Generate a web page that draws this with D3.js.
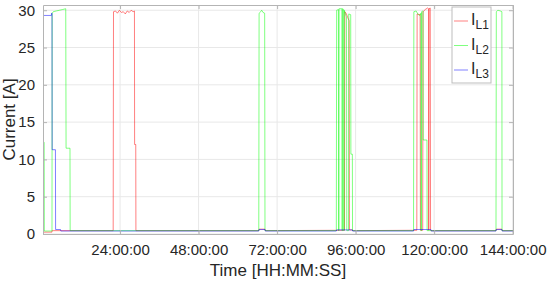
<!DOCTYPE html>
<html>
<head>
<meta charset="utf-8">
<script src="https://cdn.jsdelivr.net/npm/d3@7"></script>
<style>
  body { margin: 0; background: #fff; }
  text { font-family: Arial, "Liberation Sans", sans-serif; fill: #262626; }
</style>
</head>
<body>
<svg id="chart" width="550" height="282"></svg>
<script>
// time in hours, current in A
const l1Time = [0.45, 3.2, 3.25, 21.9, 22.0, 22.6, 23.2, 23.8, 24.4, 25.0, 25.6, 26.2, 26.8, 27.4, 28.0, 28.4, 28.45, 28.8, 28.85,
  66.4, 66.5, 68.3, 68.4, 92.6, 92.7, 93.2, 93.6, 94.0, 94.1, 95.0, 95.1,
  114.7, 114.8, 115.7, 115.8, 116.5, 116.6, 117.3, 118.0, 118.3, 118.35, 118.45, 118.8, 118.9, 119.0,
  138.9, 139.0, 140.7, 140.8, 144.1];
const l1Value = [0.25, 0.25, 0.45, 0.45, 29.8, 29.9, 29.6, 30.0, 29.7, 29.8, 29.5, 29.9, 29.7, 30.0, 29.8, 29.9, 12.0, 12.0, 0.45,
  0.45, 0.65, 0.65, 0.45, 0.5, 29.8, 29.5, 29.0, 28.6, 0.55, 0.55, 0.45,
  0.5, 29.5, 29.4, 0.5, 0.5, 29.8, 30.1, 30.3, 30.2, 0.5, 30.2, 30.3, 0.6, 0.45,
  0.45, 0.65, 0.65, 0.45, 0.45];

const l2Time = [0.45, 0.8, 0.85, 3.2, 3.25, 3.6, 4.5, 5.5, 6.5, 7.4, 7.5, 8.7, 8.75,
  66.4, 66.5, 67.0, 67.3, 67.7, 68.2, 68.3,
  90.1, 90.2, 90.75, 90.8, 90.9, 90.95, 91.8, 91.85, 91.95, 92.0, 92.35, 92.4, 92.45, 92.5, 93.2, 93.3, 93.85, 93.9, 94.5, 94.55, 95.0, 95.05,
  113.7, 113.8, 114.5, 115.0, 115.4, 115.8, 115.95, 116.0, 116.1, 116.15, 116.5, 116.6, 116.65, 117.8, 117.85,
  138.9, 139.0, 139.5, 140.2, 140.7, 140.75, 144.1];
const l2Value = [12.3, 12.3, 0.4, 0.4, 29.6, 29.8, 29.9, 30.0, 30.1, 30.2, 11.5, 11.5, 0.45,
  0.45, 29.6, 29.8, 30.0, 29.7, 29.6, 0.45,
  0.45, 30.0, 30.1, 0.45, 0.45, 30.2, 30.2, 0.45, 0.45, 30.2, 30.1, 0.45, 0.45, 30.0, 29.1, 0.45, 0.45, 29.5, 29.4, 10.7, 10.7, 0.45,
  0.45, 29.8, 29.9, 29.5, 29.3, 29.4, 29.6, 0.45, 0.45, 29.8, 29.9, 29.8, 12.6, 12.6, 0.45,
  0.45, 29.8, 30.0, 29.9, 29.8, 0.45, 0.45];

const l3Time = [0.45, 3.0, 3.1, 3.2, 3.25, 4.25, 4.3, 5.8, 5.9,
  66.4, 66.5, 68.3, 68.4, 90.1, 90.2, 95.0, 95.1, 113.7, 113.8, 119.0, 119.1, 138.9, 139.0, 140.7, 140.8, 144.1];
const l3Value = [29.3, 29.3, 29.6, 29.6, 11.3, 11.3, 0.6, 0.6, 0.4,
  0.4, 0.6, 0.6, 0.4, 0.4, 0.55, 0.55, 0.4, 0.4, 0.6, 0.6, 0.4, 0.4, 0.6, 0.6, 0.4, 0.4];

const xTicks = [24, 48, 72, 96, 120, 144];
const yTicks = [0, 5, 10, 15, 20, 25, 30];
const seriesNames = ['L1', 'L2', 'L3'];
const seriesColors = ['#ff0000', '#00ff00', '#0000ff'];

const svg = d3.select('#chart');
const margin = { top: 5, right: 37, bottom: 48, left: 43 };
const width = 550 - margin.left - margin.right;
const height = 282 - margin.top - margin.bottom;

const x = d3.scaleLinear().domain([0.45, 144.1]).range([0, width]);
const y = d3.scaleLinear().domain([0, 30.7]).range([height, 0]);

const g = svg.append('g').attr('transform', `translate(${margin.left},${margin.top})`);

// grid
g.selectAll('.gx').data(xTicks).enter().append('line')
  .attr('x1', d => x(d)).attr('x2', d => x(d)).attr('y1', 0).attr('y2', height)
  .attr('stroke', '#e8e8e8').attr('stroke-width', 1);
g.selectAll('.gy').data(yTicks).enter().append('line')
  .attr('x1', 0).attr('x2', width).attr('y1', d => y(d)).attr('y2', d => y(d))
  .attr('stroke', '#e8e8e8').attr('stroke-width', 1);

// data lines
const series = [
  { name: 'L1', t: l1Time, v: l1Value },
  { name: 'L2', t: l2Time, v: l2Value },
  { name: 'L3', t: l3Time, v: l3Value }
];
const line = d3.line().x(d => x(d[0])).y(d => y(d[1]));
const plot = g.append('g');
series.forEach((s, i) => {
  const pts = s.t.map((t, k) => [t, s.v[k]]);
  plot.append('path').datum(pts)
    .attr('d', line)
    .attr('fill', 'none')
    .attr('stroke', seriesColors[i])
    .attr('stroke-width', 0.5);
});

// axes (box with inner ticks)
const axisColor = '#b4b4b4';
const xAxis = g.append('g').attr('transform', `translate(0,${height})`)
  .call(d3.axisBottom(x).tickValues(xTicks).tickSizeInner(-4).tickSizeOuter(0)
    .tickPadding(10).tickFormat(d => d3.format('02d')(d) + ':00:00'));
const yAxis = g.append('g')
  .call(d3.axisLeft(y).tickValues(yTicks).tickSizeInner(-4).tickSizeOuter(0).tickPadding(8));
const xTop = g.append('g')
  .call(d3.axisTop(x).tickValues(xTicks).tickSizeInner(-4).tickSizeOuter(0).tickFormat(''));
const yRight = g.append('g').attr('transform', `translate(${width},0)`)
  .call(d3.axisRight(y).tickValues(yTicks).tickSizeInner(-4).tickSizeOuter(0).tickFormat(''));
[xAxis, yAxis, xTop, yRight].forEach(a => {
  a.selectAll('path').attr('stroke', axisColor);
  a.selectAll('line').attr('stroke', axisColor);
  a.selectAll('text').attr('font-size', 15).attr('fill', '#262626')
    .attr('font-family', 'Arial, "Liberation Sans", sans-serif');
});

// axis labels
svg.append('text').attr('x', margin.left + width / 2).attr('y', 276)
  .attr('text-anchor', 'middle').attr('font-size', 17).text('Time [HH:MM:SS]');
svg.append('text').attr('transform', `translate(15,${margin.top + height / 2}) rotate(-90)`)
  .attr('text-anchor', 'middle').attr('font-size', 17).text('Current [A]');

// legend
const lg = svg.append('g').attr('transform', 'translate(452,7)');
lg.append('rect').attr('width', 39).attr('height', 76)
  .attr('fill', '#fff').attr('stroke', '#bdbdbd').attr('stroke-width', 1);
seriesNames.forEach((name, i) => {
  const cy = 14 + i * 24.5;
  lg.append('line').attr('x1', 2).attr('x2', 16).attr('y1', cy).attr('y2', cy)
    .attr('stroke', seriesColors[i]).attr('stroke-width', 0.5);
  const t = lg.append('text').attr('x', 19).attr('y', cy + 4).attr('font-size', 16);
  t.append('tspan').text('I');
  t.append('tspan').attr('font-size', 12).attr('dy', 4).text(name);
});
</script>
</body>
</html>
